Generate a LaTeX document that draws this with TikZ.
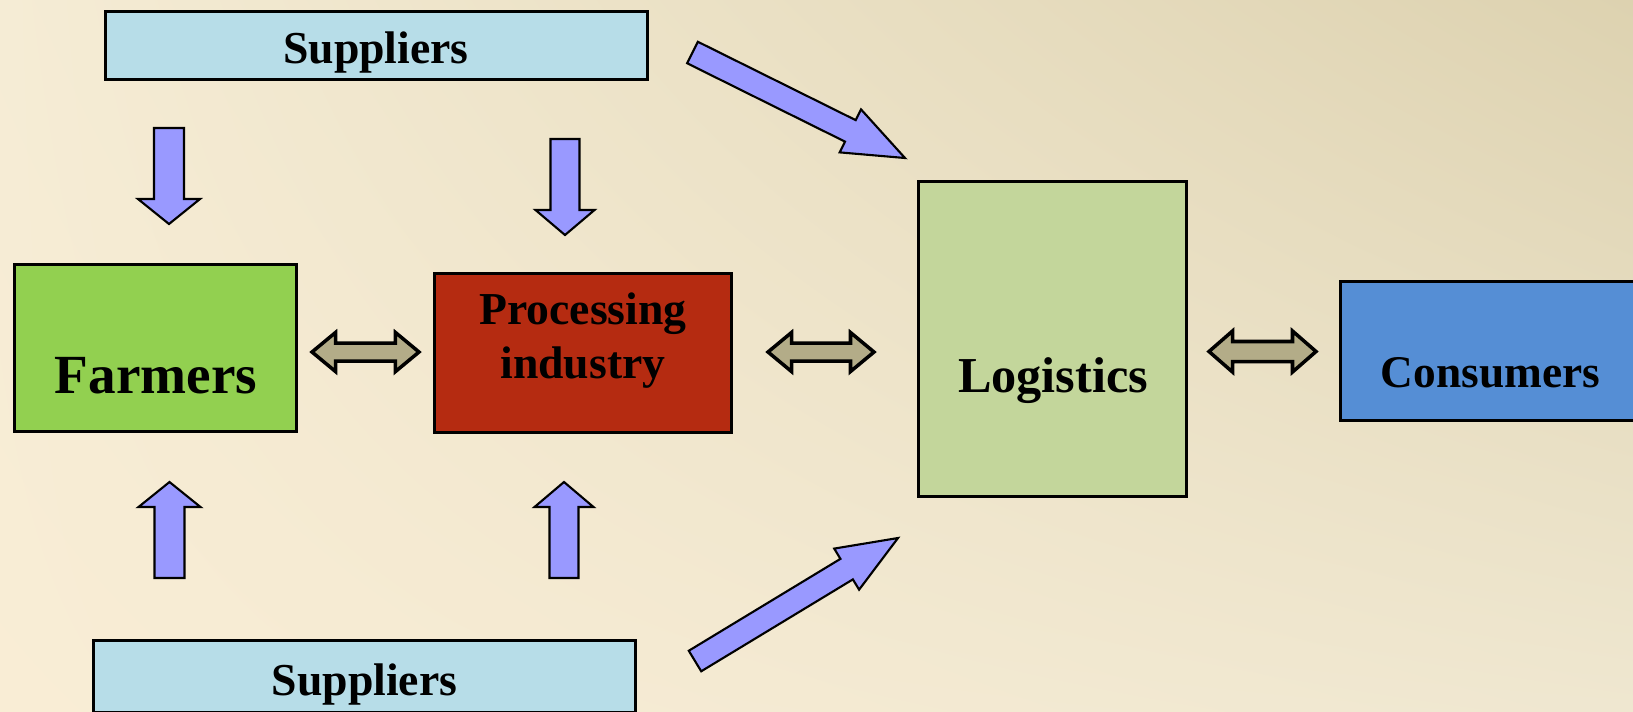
\documentclass[tikz,border=0pt]{standalone}
\usepackage{fontspec}
\setmainfont{Liberation Serif}
\usepackage{xcolor}
\usetikzlibrary{calc,shadings}

\definecolor{bgTL}{HTML}{F5ECD5}
\definecolor{bgTR}{HTML}{DDD2B0}
\definecolor{bgBL}{HTML}{F9EDD5}
\definecolor{bgBR}{HTML}{EFE7D0}
\definecolor{supBlue}{HTML}{B7DDE8}
\definecolor{farmGreen}{HTML}{92D050}
\definecolor{procRed}{HTML}{B52B11}
\definecolor{logiGreen}{HTML}{C3D69B}
\definecolor{consBlue}{HTML}{558ED5}
\definecolor{feedBlue}{HTML}{9999FF}
\definecolor{linkKhaki}{HTML}{B3AC88}

% block arrow: style, tail, tip, shaft half width, head half width, head length
\newcommand{\blockarrow}[6]{%
  \coordinate (ba-h) at ($(#3)!#6!(#2)$);
  \draw[#1] ($(#2)!#4!90:(#3)$) -- ($(ba-h)!#4!90:(#3)$) -- ($(ba-h)!#5!90:(#3)$) -- (#3)
    -- ($(ba-h)!#5!-90:(#3)$) -- ($(ba-h)!#4!-90:(#3)$) -- ($(#2)!#4!-90:(#3)$) -- cycle;
}
% double block arrow: style, end, end, shaft half width, head half width, head length
\newcommand{\twowayarrow}[6]{%
  \coordinate (da-a) at ($(#2)!#6!(#3)$);
  \coordinate (da-b) at ($(#3)!#6!(#2)$);
  \draw[#1] (#2) -- ($(da-a)!#5!90:(#3)$) -- ($(da-a)!#4!90:(#3)$) -- ($(da-b)!#4!90:(#3)$)
    -- ($(da-b)!#5!90:(#3)$) -- (#3) -- ($(da-b)!#5!-90:(#3)$) -- ($(da-b)!#4!-90:(#3)$)
    -- ($(da-a)!#4!-90:(#3)$) -- ($(da-a)!#5!-90:(#3)$) -- cycle;
}

\tikzset{
  box/.style={draw=black, line width=0.85pt, inner sep=0pt},
  lbl/.style={inner sep=0pt, anchor=base},
  feedarrow/.style={draw=black, line width=0.6pt, fill=feedBlue, line join=miter},
  linkarrow/.style={draw=black, line width=1pt, fill=linkKhaki, line join=miter},
}

\begin{document}
\begin{tikzpicture}[x=0.01cm, y=-0.01cm]
  \useasboundingbox (0,0) rectangle (1633,711);
  \clip (0,0) rectangle (1633,711);
  % Background
  \shade[upper left=bgTL, upper right=bgTR, lower left=bgBL, lower right=bgBR] (0,0) rectangle (1633,711);

  % Boxes
  \node[box, fill=supBlue, minimum width=5.42cm, minimum height=0.68cm] (supTop) at (376.5,45.5) {};
  \node[box, fill=farmGreen, minimum width=2.82cm, minimum height=1.67cm] (farmers) at (155.5,348) {};
  \node[box, fill=procRed, minimum width=2.97cm, minimum height=1.59cm] (proc) at (583,353) {};
  \node[box, fill=logiGreen, minimum width=2.675cm, minimum height=3.15cm] (logi) at (1052.75,339) {};
  \node[box, fill=consBlue, minimum width=3.27cm, minimum height=1.39cm] (cons) at (1504,351) {};
  \node[box, fill=supBlue, minimum width=5.42cm, minimum height=0.72cm] (supBot) at (364.5,676.75) {};

  % Labels
  \node[lbl, font={\bfseries\fontsize{13}{15}\selectfont}] (supTopText) at (376,63) {Suppliers};
  \node[lbl, font={\bfseries\fontsize{15.7}{18}\selectfont}] (farmersText) at (156,393) {Farmers};
  \node[lbl, align=center, font={\bfseries\fontsize{13}{15.08}\selectfont}] (procText) at (583,378) {Processing\\industry};
  \node[lbl, font={\bfseries\fontsize{14.3}{17}\selectfont}] (logiText) at (1053,392) {Logistics};
  \node[lbl, font={\bfseries\fontsize{12.9}{15}\selectfont}] (consText) at (1490.5,387) {Consumers};
  \node[lbl, font={\bfseries\fontsize{13}{15}\selectfont}] (supBotText) at (364.5,695) {Suppliers};

  % Supply arrows
  \coordinate (dnA-s) at (169,128);   \coordinate (dnA-e) at (169,224);
  \coordinate (dnB-s) at (565,139);   \coordinate (dnB-e) at (565,235);
  \coordinate (upA-s) at (169.5,578); \coordinate (upA-e) at (169.5,482);
  \coordinate (upB-s) at (564,578);   \coordinate (upB-e) at (564,482);
  \coordinate (dgT-s) at (692.5,52.5); \coordinate (dgT-e) at (905,158);
  \coordinate (dgB-s) at (695,661);   \coordinate (dgB-e) at (898,538);
  \blockarrow{feedarrow}{dnA-s}{dnA-e}{0.15cm}{0.31cm}{0.25cm}
  \blockarrow{feedarrow}{dnB-s}{dnB-e}{0.145cm}{0.295cm}{0.25cm}
  \blockarrow{feedarrow}{upA-s}{upA-e}{0.15cm}{0.31cm}{0.25cm}
  \blockarrow{feedarrow}{upB-s}{upB-e}{0.145cm}{0.295cm}{0.25cm}
  \blockarrow{feedarrow}{dgT-s}{dgT-e}{0.12cm}{0.24cm}{0.61cm}
  \blockarrow{feedarrow}{dgB-s}{dgB-e}{0.12cm}{0.24cm}{0.60cm}

  % Two-way links
  \coordinate (lkA-s) at (312,352);    \coordinate (lkA-e) at (419,352);
  \coordinate (lkB-s) at (768,352);    \coordinate (lkB-e) at (874,352);
  \coordinate (lkC-s) at (1209,351.5); \coordinate (lkC-e) at (1316,351.5);
  \twowayarrow{linkarrow}{lkA-s}{lkA-e}{0.09cm}{0.195cm}{0.235cm}
  \twowayarrow{linkarrow}{lkB-s}{lkB-e}{0.09cm}{0.195cm}{0.235cm}
  \twowayarrow{linkarrow}{lkC-s}{lkC-e}{0.10cm}{0.205cm}{0.235cm}
\end{tikzpicture}
\end{document}
